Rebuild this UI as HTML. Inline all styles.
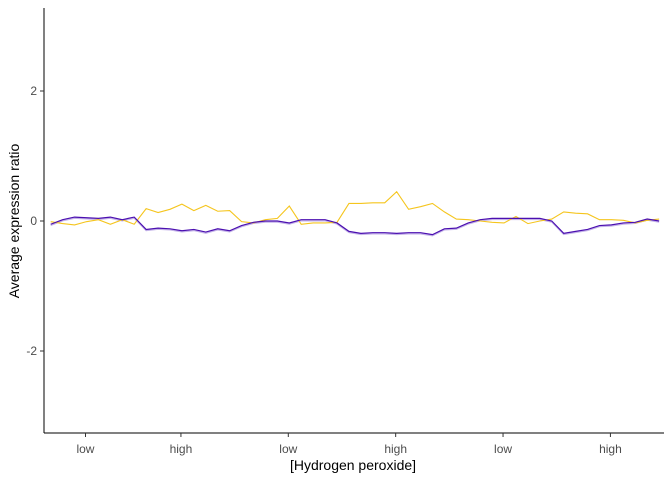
<!DOCTYPE html>
<html><head><meta charset="utf-8"><style>
body{margin:0;background:#fff;}
svg text{font-family:"Liberation Sans",sans-serif;}
</style></head><body>
<svg id="chart" width="672" height="480" xmlns="http://www.w3.org/2000/svg">
<g id="plot"></g>
<line x1="44" y1="8" x2="44" y2="433" stroke="#000" stroke-width="1"/>
<line x1="44" y1="433" x2="664" y2="433" stroke="#000" stroke-width="1"/>
<g id="yticks"></g>
<g id="xticks"></g>
<text x="353" y="470" text-anchor="middle" font-size="14">[Hydrogen peroxide]</text>
<text transform="translate(19,221) rotate(-90)" text-anchor="middle" font-size="14">Average expression ratio</text>
</svg>
<script>
const yellowValues=[-0.01,-0.04,-0.06,-0.01,0.02,-0.05,0.02,-0.05,0.19,0.13,0.18,0.26,0.16,0.24,0.15,0.16,-0.01,-0.03,0.02,0.04,0.23,-0.05,-0.03,-0.03,-0.02,0.27,
0.27,0.28,0.28,0.45,0.18,0.22,0.27,0.14,0.03,0.02,0,-0.02,-0.03,0.07,-0.04,0,0.03,0.14,0.12,0.11,0.02,0.02,0.01,-0.03,0.01,0.03];
const purpleValues=[-0.05,0.02,0.06,0.05,0.04,0.06,0.02,0.06,-0.13,-0.11,-0.12,-0.15,-0.13,-0.17,-0.12,-0.15,-0.07,-0.02,0,0,-0.03,0.02,0.02,0.02,-0.03,-0.16,
-0.19,-0.18,-0.18,-0.19,-0.18,-0.18,-0.21,-0.12,-0.11,-0.03,0.02,0.04,0.04,0.04,0.04,0.04,0,-0.19,-0.16,-0.13,-0.07,-0.06,-0.03,-0.02,0.03,0];
const yTickValues=[-2,0,2];
const xTickLabels=["low","high","low","high","low","high"];
const xTickPositions=[3,11,20,29,38,47];
const xs=i=>50.7+i*11.93;
const ys=v=>221-v*65;
const NS="http://www.w3.org/2000/svg";
const plot=document.getElementById('plot');
function line(vals,color,w,dy,name){
  const p=document.createElementNS(NS,'polyline');
  p.setAttribute('points',vals.map((v,i)=>xs(i)+','+(ys(v)+dy)).join(' '));
  p.setAttribute('fill','none');p.setAttribute('stroke',color);p.setAttribute('stroke-width',w);
  
  
  plot.appendChild(p);
}
line(purpleValues,'#c3b2e8',1.3,1.1,'series-blue-line');
line(yellowValues,'#f5c51d',1.1,0,'series-yellow-line');
line(purpleValues,'#4b0fb0',1.2,0,'series-purple-line');
const yt=document.getElementById('yticks');
yTickValues.forEach(v=>{
  const l=document.createElementNS(NS,'line');
  l.setAttribute('x1',40);l.setAttribute('x2',44);l.setAttribute('y1',ys(v));l.setAttribute('y2',ys(v));l.setAttribute('stroke','#333');
  
  
  yt.appendChild(l);
  const t=document.createElementNS(NS,'text');
  t.setAttribute('x',37);t.setAttribute('y',ys(v)+4);t.setAttribute('text-anchor','end');t.setAttribute('font-size','12');t.setAttribute('fill','#4d4d4d');
  t.textContent=v;
  
  
  yt.appendChild(t);
});
const xt=document.getElementById('xticks');
xTickLabels.forEach((lab,k)=>{
  const x=xs(xTickPositions[k])-1;
  const l=document.createElementNS(NS,'line');
  l.setAttribute('x1',x);l.setAttribute('x2',x);l.setAttribute('y1',433);l.setAttribute('y2',437);l.setAttribute('stroke','#333');
  
  
  xt.appendChild(l);
  const t=document.createElementNS(NS,'text');
  t.setAttribute('x',x);t.setAttribute('y',453);t.setAttribute('text-anchor','middle');t.setAttribute('font-size','12');t.setAttribute('fill','#4d4d4d');
  t.textContent=lab;
  
  
  xt.appendChild(t);
});
</script>
</body></html>
